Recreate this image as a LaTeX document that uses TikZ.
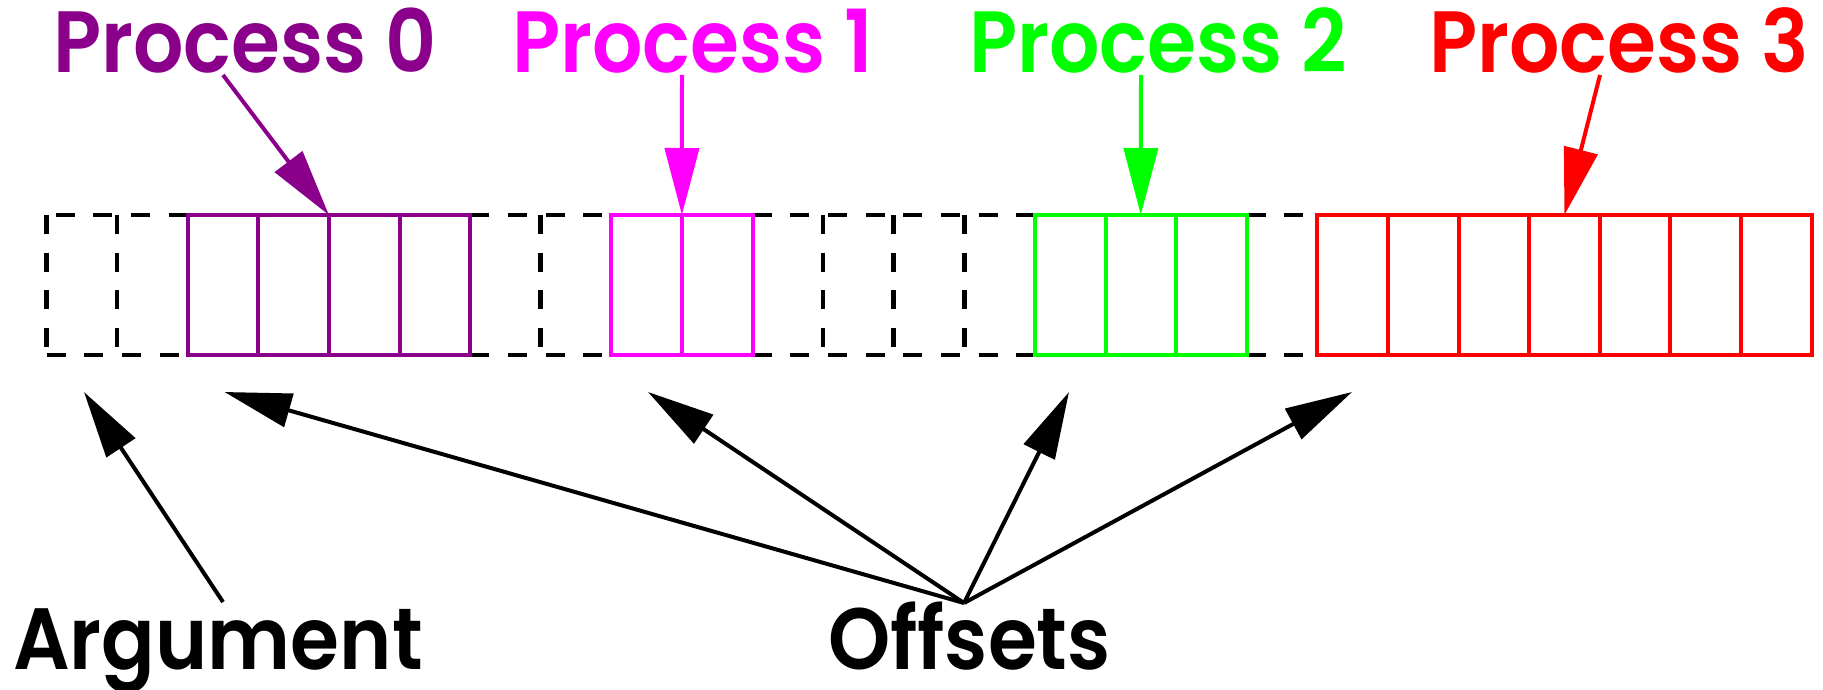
\documentclass[tikz,border=0pt]{standalone}
\usepackage{fontspec}
\newfontfamily\labfont{Poppins SemiBold}[FakeStretch=0.91]
\usetikzlibrary{arrows.meta}
\definecolor{cpurple}{RGB}{139,0,139}
\definecolor{cmagenta}{RGB}{255,0,255}
\definecolor{cgreen}{RGB}{0,255,0}
\definecolor{cred}{RGB}{255,0,0}
\begin{document}
\begin{tikzpicture}[x=1pt,y=-1pt,
  cellline/.style={line width=4pt},
  dashline/.style={line width=4.7pt, dash pattern=on 19pt off 18.7pt},
  tipped/.style={line width=4pt, -{Triangle[length=67pt,width=34pt]}},
  lab/.style={inner sep=0pt, anchor=base west, font=\labfont\fontsize{87}{90}\selectfont}]
\useasboundingbox (0,0) rectangle (1823,690);
\foreach \i in {0,...,25} {
  \coordinate (t\i) at ({46.5+70.6*\i},215);
  \coordinate (b\i) at ({46.5+70.6*\i},355);
}
% dashed (unassigned) regions
\draw[dashline] (t2) -- (t0) (b0) -- (b2) (t0) -- (b0) (t1) -- (b1);
\draw[dashline] (t6) -- (t8) (b6) -- (b8) (t7) -- (b7);
\draw[dashline] (t10) -- (t14) (b10) -- (b14) (t11) -- (b11) (t12) -- (b12) (t13) -- (b13);
\draw[dashline] (t17) -- (t18) (b17) -- (b18);
% process blocks
\draw[cellline, cpurple] (t2) rectangle (b6) (t3) -- (b3) (t4) -- (b4) (t5) -- (b5);
\draw[cellline, cmagenta] (t8) rectangle (b10) (t9) -- (b9);
\draw[cellline, cgreen] (t14) rectangle (b17) (t15) -- (b15) (t16) -- (b16);
\draw[cellline, cred] (t18) rectangle (b25) (t19) -- (b19) (t20) -- (b20) (t21) -- (b21) (t22) -- (b22) (t23) -- (b23) (t24) -- (b24);
% labels
\node[lab, text=cpurple] (p0) at (53,73) {Process 0};
\node[lab, text=cmagenta] (p1) at (512,73) {Process 1};
\node[lab, text=cgreen] (p2) at (969,73) {Process 2};
\node[lab, text=cred] (p3) at (1429,73) {Process 3};
\node[lab, text=black] (arg) at (13,669) {Argument};
\node[lab, text=black] (off) at (828,669) {Offsets};
% arrow ends
\coordinate (p0s) at (223,75);
\coordinate (p1s) at (682,75);
\coordinate (p2s) at (1141,75);
\coordinate (p3s) at (1600,75);
\coordinate (p2t) at (1140.8,215);
\coordinate (p3t) at (1564.4,215);
\draw[tipped, cpurple] (p0s) -- (t4);
\draw[tipped, cmagenta] (p1s) -- (t9);
\draw[tipped, cgreen] (p2s) -- (p2t);
\draw[tipped, cred] (p3s) -- (p3t);
\coordinate (as) at (223,602);
\coordinate (at) at (84,392);
\coordinate (os) at (964,603);
\coordinate (o1) at (224.5,392);
\coordinate (o2) at (648,392);
\coordinate (o3) at (1069,392);
\coordinate (o4) at (1352,392);
\draw[tipped] (as) -- (at);
\draw[tipped] (os) -- (o1);
\draw[tipped] (os) -- (o2);
\draw[tipped] (os) -- (o3);
\draw[tipped] (os) -- (o4);
\end{tikzpicture}
\end{document}
